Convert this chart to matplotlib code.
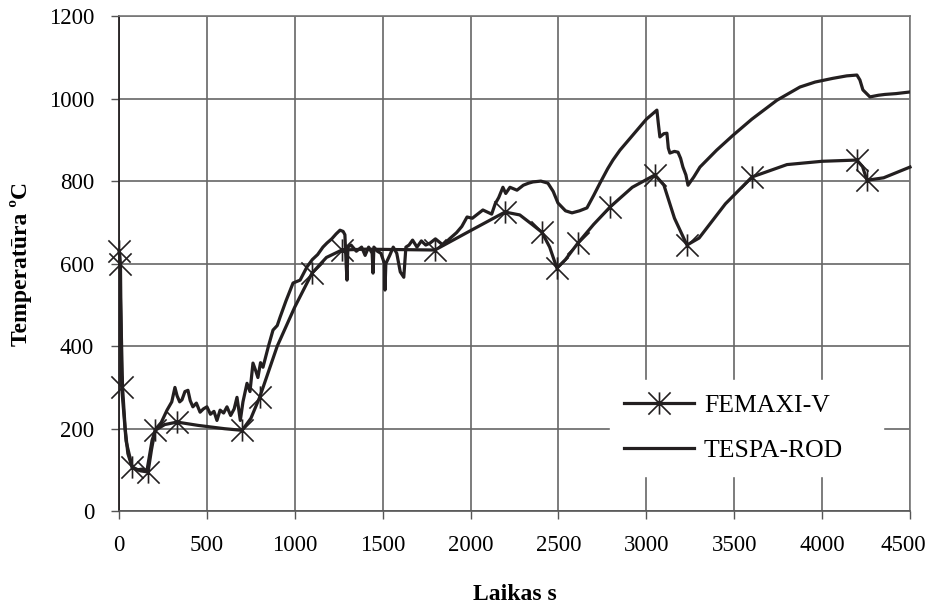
import matplotlib
matplotlib.use("Agg")
import matplotlib.pyplot as plt
from matplotlib.path import Path
from matplotlib.transforms import ScaledTranslation

# FEMAXI-V (smooth curve with asterisk markers)
femaxi_x = [0, 8, 15, 40, 75, 120, 165, 185, 205, 260, 330, 450, 600, 700, 750, 800, 900, 1000, 1098, 1180, 1268, 1400, 1600, 1797, 2000, 2196, 2280, 2350, 2406, 2450, 2491, 2540, 2611, 2700, 2793, 2920, 3049, 3100, 3160, 3231, 3300, 3450, 3601, 3800, 4000, 4198, 4230, 4255, 4350, 4500]
femaxi_y = [630, 600, 300, 170, 107, 98, 95, 150, 196, 210, 216, 208, 200, 196, 225, 276, 400, 495, 577, 615, 633, 635, 634, 633, 680, 725, 718, 695, 676, 640, 589, 610, 650, 695, 737, 785, 815, 790, 710, 645, 662, 745, 810, 840, 848, 851, 835, 802, 808, 834]
femaxi_markers = [0, 1, 2, 4, 6, 8, 10, 13, 15, 18, 20, 23, 25, 28, 30, 32, 34, 36, 39, 42, 45, 47]

# TESPA-ROD (noisy curve)
tespa_x = [0, 5, 12, 20, 35, 50, 74, 100, 130, 159, 175, 188, 210, 240, 273, 300, 318, 330, 345, 358, 375, 392, 405, 420, 440, 461, 480, 500, 520, 540, 557, 575, 595, 614, 635, 655, 671, 690, 705, 728, 745, 762, 778, 790, 805, 819, 850, 876, 900, 916, 950, 990, 1030, 1069, 1100, 1130, 1160, 1183, 1210, 1235, 1257, 1275, 1285, 1292, 1297, 1302, 1320, 1350, 1380, 1400, 1420, 1440, 1445, 1450, 1470, 1490, 1510, 1513, 1518, 1540, 1560, 1580, 1600, 1620, 1627, 1632, 1650, 1670, 1695, 1720, 1745, 1770, 1800, 1843, 1880, 1920, 1950, 1980, 2010, 2040, 2070, 2095, 2120, 2140, 2160, 2184, 2200, 2224, 2264, 2300, 2330, 2355, 2400, 2440, 2470, 2497, 2540, 2577, 2620, 2662, 2700, 2736, 2780, 2810, 2850, 2900, 2950, 3000, 3060, 3068, 3077, 3100, 3117, 3125, 3134, 3160, 3180, 3195, 3208, 3225, 3237, 3270, 3305, 3400, 3493, 3600, 3743, 3874, 3960, 4061, 4140, 4198, 4215, 4232, 4272, 4320, 4357, 4420, 4500]
tespa_y = [620, 560, 450, 300, 200, 140, 107, 100, 102, 99, 140, 172, 200, 215, 245, 265, 300, 280, 265, 270, 290, 293, 268, 253, 262, 240, 248, 253, 235, 242, 220, 245, 238, 253, 232, 248, 276, 220, 265, 310, 290, 359, 340, 324, 360, 349, 400, 439, 450, 470, 510, 553, 560, 592, 610, 622, 640, 650, 660, 672, 681, 678, 670, 600, 560, 640, 645, 630, 640, 620, 640, 625, 577, 640, 630, 625, 600, 536, 600, 620, 640, 625, 580, 567, 610, 640, 645, 657, 640, 655, 645, 650, 660, 645, 660, 675, 690, 713, 710, 720, 730, 725, 720, 745, 760, 785, 770, 785, 778, 790, 795, 798, 800, 795, 775, 747, 728, 723, 728, 735, 765, 795, 830, 851, 875, 900, 925, 950, 972, 940, 907, 915, 916, 880, 868, 872, 870, 855, 834, 815, 790, 810, 834, 875, 911, 950, 996, 1028, 1040, 1049, 1055, 1057, 1045, 1021, 1004, 1008, 1010, 1012, 1016]

xticks = [0, 500, 1000, 1500, 2000, 2500, 3000, 3500, 4000, 4500]
yticks = [0, 200, 400, 600, 800, 1000, 1200]

plt.rcParams['font.family'] = ['Liberation Serif', 'DejaVu Serif']

star = Path([(0, -1), (0, 1), (-1, -1), (1, 1), (-1, 1), (1, -1)],
            [Path.MOVETO, Path.LINETO, Path.MOVETO, Path.LINETO, Path.MOVETO, Path.LINETO])

ink = '#231f20'
fig = plt.figure(figsize=(9.3, 6.05), dpi=100)
ax = fig.add_axes([0.128, 0.155, 0.8505, 0.8185])

ax.plot(tespa_x, tespa_y, color=ink, lw=2.3, label='TESPA-ROD', zorder=3)
ax.plot(femaxi_x, femaxi_y, color=ink, lw=2.3, marker=star, markersize=16,
        markeredgewidth=1.2, markerfacecolor='none', markeredgecolor=ink,
        markevery=femaxi_markers, label='FEMAXI-V', zorder=4, clip_on=False)

ax.set_xlim(0, 4500)
ax.set_ylim(0, 1200)
ax.set_xticks(xticks)
ax.set_yticks(yticks)
ax.tick_params(axis='both', direction='out', length=6, width=1, color='#555555',
               labelsize=16.5)
ax.tick_params(axis='y', pad=12)
ax.tick_params(axis='x', pad=11)
ax.grid(True, color='#666666', lw=1.2, zorder=0)
ax.set_axisbelow(True)
for s in ['top', 'right']:
    ax.spines[s].set_color('#777777')
    ax.spines[s].set_linewidth(1.2)
ax.spines['left'].set_color(ink)
ax.spines['left'].set_linewidth(1.3)
ax.spines['bottom'].set_color('#555555')
ax.spines['bottom'].set_linewidth(1.2)

ax.set_xlabel('Laikas s', fontsize=17, fontweight='bold', labelpad=20)
ax.set_ylabel('Temperatūra ºC', fontsize=17, fontweight='bold', labelpad=12)

# keep the last x tick label inside the canvas
last = ax.get_xticklabels()[-1]
last.set_transform(last.get_transform() + ScaledTranslation(-0.07, 0, fig.dpi_scale_trans))

handles, labels = ax.get_legend_handles_labels()
leg = fig.legend(handles[::-1], labels[::-1], loc='upper left',
                 bbox_to_anchor=(0.656, 0.210, 0.2935, 0.162), mode='expand',
                 frameon=True, fontsize=18.5, handlelength=2.7, borderpad=0.55,
                 labelspacing=0.85, handletextpad=0.4, borderaxespad=0, numpoints=1)
leg.get_frame().set_facecolor('white')
leg.get_frame().set_edgecolor('white')
leg.get_frame().set_alpha(1)
leg.get_frame().set_boxstyle('square', pad=0)
leg.set_zorder(5)

fig.savefig('out.png', dpi=100)
